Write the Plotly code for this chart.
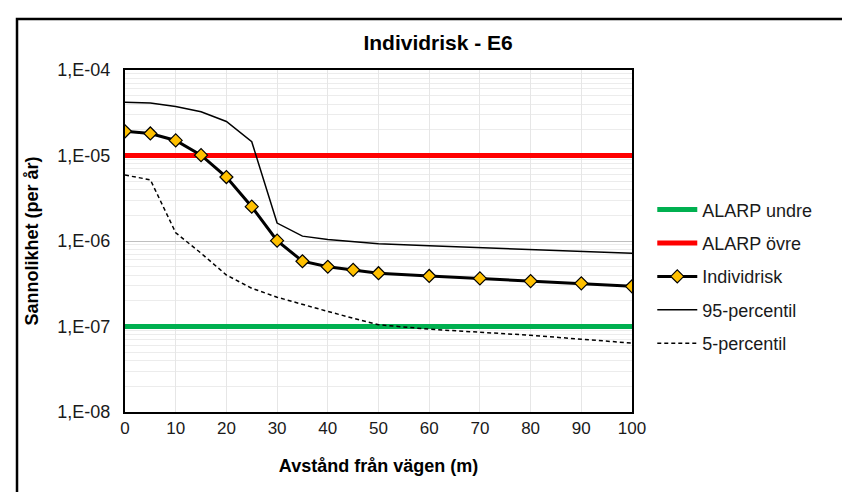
import plotly.graph_objects as go

# ---- data ----
distance = [0, 5, 10, 15, 20, 25, 30, 35, 40, 45, 50, 60, 70, 80, 90, 100]
individrisk = [1.92e-5, 1.81e-5, 1.50e-5, 1.01e-5, 5.6e-6, 2.52e-6, 1.01e-6, 5.8e-7,
               5.0e-7, 4.6e-7, 4.2e-7, 3.9e-7, 3.65e-7, 3.4e-7, 3.2e-7, 2.95e-7]
p95 = [4.2e-5, 4.1e-5, 3.75e-5, 3.25e-5, 2.5e-5, 1.45e-5, 1.62e-6, 1.14e-6,
       1.04e-6, 9.8e-7, 9.3e-7, 8.8e-7, 8.4e-7, 7.9e-7, 7.6e-7, 7.2e-7]
p5 = [5.9e-6, 5.2e-6, 1.25e-6, 7.2e-7, 4.0e-7, 2.8e-7, 2.2e-7, 1.8e-7,
      1.5e-7, 1.25e-7, 1.05e-7, 9.3e-8, 8.6e-8, 7.9e-8, 7.1e-8, 6.4e-8]
alarp_range = [0, 100]
alarp_undre = 1e-7
alarp_ovre = 1e-5

y_tickvals = [1e-8, 1e-7, 1e-6, 1e-5, 1e-4]
y_ticktext = ["1,E-08", "1,E-07", "1,E-06", "1,E-05", "1,E-04"]
x_tickvals = [0, 10, 20, 30, 40, 50, 60, 70, 80, 90, 100]

FONT = "Liberation Sans, Arial, sans-serif"

fig = go.Figure()
fig.add_trace(go.Scatter(x=alarp_range, y=[alarp_undre] * 2, mode="lines", name="ALARP undre",
                         line=dict(color="#00B050", width=5), legendgroup="a", legendrank=1))
fig.add_trace(go.Scatter(x=alarp_range, y=[alarp_ovre] * 2, mode="lines", name="ALARP övre",
                         line=dict(color="#FF0000", width=5), legendgroup="b", legendrank=2))
fig.add_trace(go.Scatter(x=distance, y=p95, mode="lines", name="95-percentil",
                         line=dict(color="black", width=1.5), legendgroup="d", legendrank=4))
fig.add_trace(go.Scatter(x=distance, y=p5, mode="lines", name="5-percentil",
                         line=dict(color="black", width=1.5, dash="4px,3px"), legendgroup="e", legendrank=5))
fig.add_trace(go.Scatter(x=distance, y=individrisk, mode="lines+markers", name="Individrisk",
                         line=dict(color="black", width=3),
                         marker=dict(symbol="diamond", size=10, color="#FFC000",
                                     line=dict(color="black", width=1.2)),
                         legendgroup="c", legendrank=3))

minor_vals = [m * 10.0 ** e for e in range(-8, -4) for m in range(2, 10)]

fig.update_layout(
    width=850, height=492,
    margin=dict(l=117, r=226, t=62, b=88),
    paper_bgcolor="white", plot_bgcolor="white",
    font=dict(family=FONT, color="#1a1a1a", size=17),
    title=dict(text="<b>Individrisk - E6</b>", x=0.506, xanchor="center", y=0.93, yanchor="middle",
               font=dict(size=21, color="black", family=FONT)),
    xaxis=dict(range=[0, 100], tickvals=x_tickvals, showgrid=True, gridcolor="#e6e6e6", gridwidth=1,
               showline=True, linecolor="black", linewidth=2, mirror=True, ticks="", zeroline=False,
               tickfont=dict(size=17),
               title=dict(text="<b>Avstånd från vägen (m)</b>", font=dict(size=18, color="black"), standoff=22)),
    yaxis=dict(type="log", range=[-8, -4], tickvals=y_tickvals, ticktext=y_ticktext,
               showgrid=True, gridcolor="#bfbfbf", gridwidth=1,
               minor=dict(tickvals=minor_vals, showgrid=True, gridcolor="#ececec", ticks=""),
               showline=True, linecolor="black", linewidth=2, mirror=True, ticks="", zeroline=False,
               tickfont=dict(size=18), ticklabelstandoff=9,
               title=dict(text="<b>Sannolikhet (per år)</b>", font=dict(size=18, color="black"), standoff=14)),
    legend=dict(x=1.04, y=0.645, xanchor="left", yanchor="top", font=dict(size=18, color="#1a1a1a"),
                traceorder="grouped", tracegroupgap=7, itemwidth=40, bgcolor="rgba(0,0,0,0)"),
    showlegend=True,
    shapes=[dict(type="rect", xref="paper", yref="paper", x0=-0.213, x1=1.5, y0=-0.3, y1=1.149,
                 line=dict(color="black", width=2.5), fillcolor="rgba(0,0,0,0)", layer="below")],
)

fig.write_html("out.html")
